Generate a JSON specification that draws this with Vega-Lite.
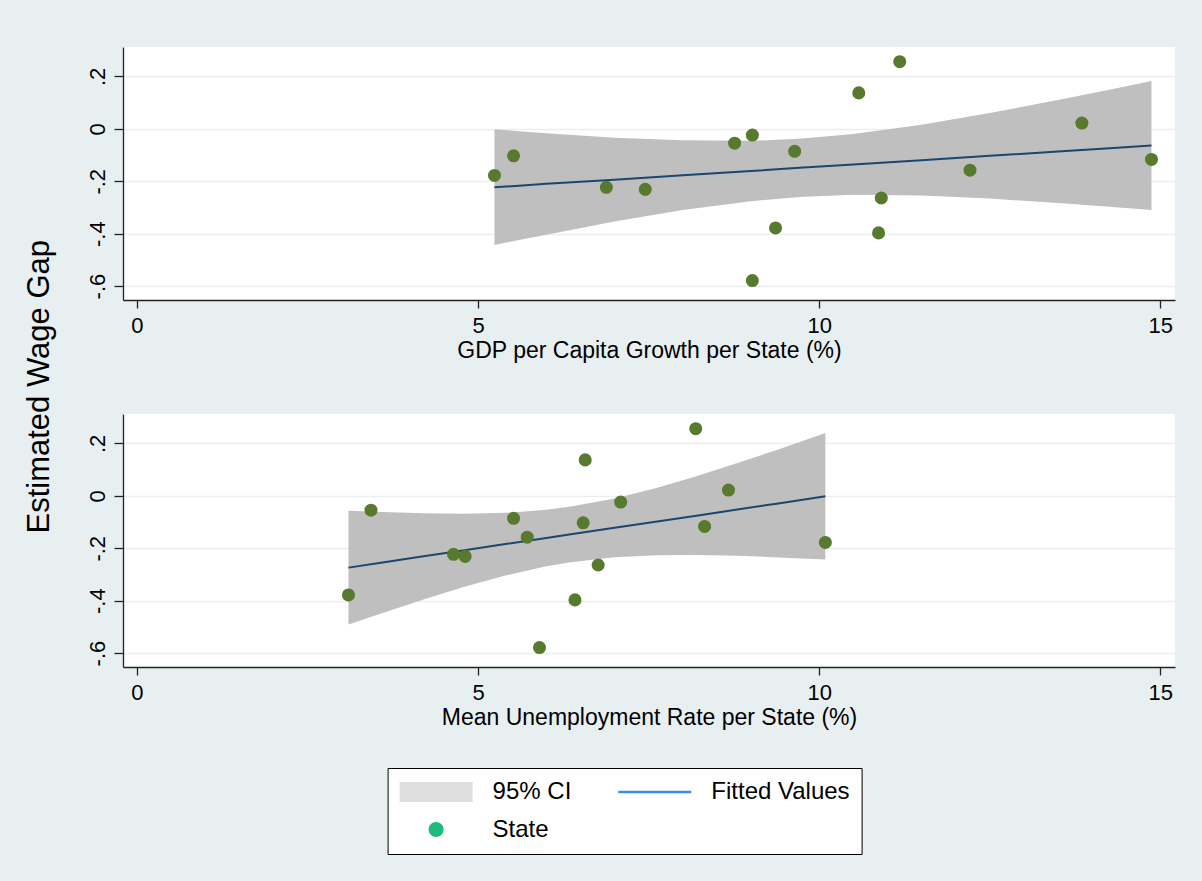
{
  "$schema": "https://vega.github.io/schema/vega-lite/v6.json",
  "background": "#e8eff1",
  "padding": {"left": 23, "top": 47, "right": 28, "bottom": 28},
  "bounds": "flush",
  "spacing": 114,
  "title": {
    "text": "Estimated Wage Gap",
    "orient": "left",
    "anchor": "middle",
    "offset": 30.5,
    "dx": 64,
    "fontSize": 31,
    "fontWeight": "normal",
    "font": "Liberation Sans",
    "color": "#000000"
  },
  "config": {
    "font": "Liberation Sans",
    "view": {"fill": "white", "stroke": null},
    "axis": {
      "domainColor": "#222222",
      "domainWidth": 1.3,
      "tickColor": "#222222",
      "tickWidth": 1.3,
      "labelColor": "#000000",
      "labelFont": "Liberation Sans",
      "labelFontSize": 22,
      "labelFlush": false,
      "labelOverlap": false,
      "titleColor": "#000000",
      "titleFont": "Liberation Sans",
      "titleFontSize": 23,
      "titleFontWeight": "normal"
    },
    "axisX": {"grid": false, "tickSize": 8, "labelPadding": 7, "titlePadding": 3, "format": "d"},
    "axisY": {
      "grid": true,
      "gridColor": "#e8eff1",
      "gridWidth": 1.5,
      "tickSize": 9,
      "labelAngle": 270,
      "labelAlign": "center",
      "labelBaseline": "bottom",
      "labelPadding": 5
    },
    "legend": {
      "orient": "none",
      "legendX": 264.6,
      "legendY": 721,
      "columns": 2,
      "direction": "horizontal",
      "fillColor": "white",
      "strokeColor": "#000000",
      "padding": 12,
      "labelFont": "Liberation Sans",
      "labelFontSize": 24,
      "labelColor": "#000000",
      "symbolSize": 400,
      "symbolStrokeWidth": 0,
      "symbolOpacity": 1,
      "symbolOffset": 24.5,
      "labelOffset": 44.5,
      "rowPadding": 13.5,
      "columnPadding": 46.7
    }
  },
  "datasets": {
    "states": [
      {"gdp": 5.24, "unemp": 10.09, "gap": -0.178},
      {"gdp": 5.52, "unemp": 6.54, "gap": -0.103},
      {"gdp": 6.88, "unemp": 4.64, "gap": -0.223},
      {"gdp": 7.45, "unemp": 4.81, "gap": -0.231},
      {"gdp": 8.76, "unemp": 3.43, "gap": -0.055},
      {"gdp": 9.02, "unemp": 7.09, "gap": -0.024},
      {"gdp": 9.02, "unemp": 5.90, "gap": -0.579},
      {"gdp": 9.36, "unemp": 3.10, "gap": -0.378},
      {"gdp": 9.64, "unemp": 5.52, "gap": -0.086},
      {"gdp": 10.58, "unemp": 6.57, "gap": 0.137},
      {"gdp": 10.87, "unemp": 6.42, "gap": -0.397},
      {"gdp": 10.91, "unemp": 6.76, "gap": -0.264},
      {"gdp": 11.18, "unemp": 8.19, "gap": 0.256},
      {"gdp": 12.21, "unemp": 5.72, "gap": -0.158},
      {"gdp": 13.85, "unemp": 8.67, "gap": 0.022},
      {"gdp": 14.87, "unemp": 8.32, "gap": -0.117}
    ],
    "gdpFit": [
      {"x": 5.24, "fit": -0.223, "lo": -0.443, "hi": -0.002},
      {"x": 5.6, "fit": -0.217, "lo": -0.424, "hi": -0.009},
      {"x": 6.0, "fit": -0.210, "lo": -0.404, "hi": -0.017},
      {"x": 7.0, "fit": -0.194, "lo": -0.354, "hi": -0.034},
      {"x": 8.0, "fit": -0.177, "lo": -0.310, "hi": -0.044},
      {"x": 9.0, "fit": -0.161, "lo": -0.276, "hi": -0.046},
      {"x": 9.71, "fit": -0.149, "lo": -0.260, "hi": -0.038},
      {"x": 10.5, "fit": -0.136, "lo": -0.252, "hi": -0.020},
      {"x": 11.5, "fit": -0.120, "lo": -0.254, "hi": 0.015},
      {"x": 12.5, "fit": -0.103, "lo": -0.266, "hi": 0.060},
      {"x": 13.5, "fit": -0.087, "lo": -0.283, "hi": 0.110},
      {"x": 14.2, "fit": -0.075, "lo": -0.296, "hi": 0.146},
      {"x": 14.87, "fit": -0.064, "lo": -0.310, "hi": 0.182}
    ],
    "unempFit": [
      {"x": 3.10, "fit": -0.274, "lo": -0.491, "hi": -0.057},
      {"x": 3.6, "fit": -0.254, "lo": -0.447, "hi": -0.062},
      {"x": 4.2, "fit": -0.231, "lo": -0.396, "hi": -0.067},
      {"x": 4.8, "fit": -0.208, "lo": -0.347, "hi": -0.068},
      {"x": 5.4, "fit": -0.184, "lo": -0.304, "hi": -0.065},
      {"x": 6.0, "fit": -0.161, "lo": -0.269, "hi": -0.053},
      {"x": 6.36, "fit": -0.147, "lo": -0.253, "hi": -0.041},
      {"x": 7.0, "fit": -0.122, "lo": -0.234, "hi": -0.010},
      {"x": 7.6, "fit": -0.099, "lo": -0.227, "hi": 0.029},
      {"x": 8.2, "fit": -0.076, "lo": -0.226, "hi": 0.075},
      {"x": 8.8, "fit": -0.052, "lo": -0.229, "hi": 0.125},
      {"x": 9.4, "fit": -0.029, "lo": -0.235, "hi": 0.177},
      {"x": 10.09, "fit": -0.002, "lo": -0.243, "hi": 0.240}
    ],
    "legendItems": [
      {"item": "95% CI"},
      {"item": "Fitted Values"},
      {"item": "State"}
    ]
  },
  "vconcat": [
    {
      "width": 1052,
      "height": 253,
      "layer": [
        {
          "data": {"name": "gdpFit"},
          "mark": {"type": "area", "color": "#bfbfbf", "opacity": 1},
          "encoding": {
            "x": {
              "field": "x", "type": "quantitative",
              "title": "GDP per Capita Growth per State (%)",
              "scale": {"domain": [-0.205, 15.215], "nice": false, "zero": false},
              "axis": {"values": [0, 5, 10, 15]}
            },
            "y": {
              "field": "lo", "type": "quantitative", "title": null,
              "scale": {"domain": [-0.653, 0.312], "nice": false, "zero": false},
              "axis": {
                "values": [-0.6, -0.4, -0.2, 0, 0.2],
                "labelExpr": "datum.value == 0 ? '0' : (datum.value < 0 ? '-' : '') + '.' + round(abs(datum.value) * 10)"
              }
            },
            "y2": {"field": "hi"}
          }
        },
        {
          "data": {"name": "gdpFit"},
          "mark": {"type": "line", "color": "#1a476f", "strokeWidth": 2},
          "encoding": {
            "x": {"field": "x", "type": "quantitative", "title": "GDP per Capita Growth per State (%)"},
            "y": {"field": "fit", "type": "quantitative", "title": null}
          }
        },
        {
          "data": {"name": "states"},
          "mark": {"type": "point", "filled": true, "color": "#587a2e", "opacity": 1, "size": 170},
          "encoding": {
            "x": {"field": "gdp", "type": "quantitative", "title": "GDP per Capita Growth per State (%)"},
            "y": {"field": "gap", "type": "quantitative", "title": null}
          }
        }
      ]
    },
    {
      "width": 1052,
      "height": 253,
      "layer": [
        {
          "data": {"name": "unempFit"},
          "mark": {"type": "area", "color": "#bfbfbf", "opacity": 1},
          "encoding": {
            "x": {
              "field": "x", "type": "quantitative",
              "title": "Mean Unemployment Rate per State (%)",
              "scale": {"domain": [-0.205, 15.215], "nice": false, "zero": false},
              "axis": {"values": [0, 5, 10, 15]}
            },
            "y": {
              "field": "lo", "type": "quantitative", "title": null,
              "scale": {"domain": [-0.653, 0.312], "nice": false, "zero": false},
              "axis": {
                "values": [-0.6, -0.4, -0.2, 0, 0.2],
                "labelExpr": "datum.value == 0 ? '0' : (datum.value < 0 ? '-' : '') + '.' + round(abs(datum.value) * 10)"
              }
            },
            "y2": {"field": "hi"}
          }
        },
        {
          "data": {"name": "unempFit"},
          "mark": {"type": "line", "color": "#1a476f", "strokeWidth": 2},
          "encoding": {
            "x": {"field": "x", "type": "quantitative", "title": "Mean Unemployment Rate per State (%)"},
            "y": {"field": "fit", "type": "quantitative", "title": null}
          }
        },
        {
          "data": {"name": "states"},
          "mark": {"type": "point", "filled": true, "color": "#587a2e", "opacity": 1, "size": 170},
          "encoding": {
            "x": {"field": "unemp", "type": "quantitative", "title": "Mean Unemployment Rate per State (%)"},
            "y": {"field": "gap", "type": "quantitative", "title": null}
          }
        },
        {
          "data": {"name": "legendItems"},
          "mark": {"type": "point", "filled": true, "opacity": 1},
          "encoding": {
            "x": {"field": "unemp", "type": "quantitative", "title": "Mean Unemployment Rate per State (%)"},
            "y": {"field": "gap", "type": "quantitative", "title": null},
            "color": {
              "field": "item", "type": "nominal", "title": null,
              "scale": {
                "domain": ["95% CI", "Fitted Values", "State"],
                "range": ["#dedede", "#3b8ee8", "#1dbb7e"]
              }
            },
            "shape": {
              "field": "item", "type": "nominal", "title": null,
              "scale": {
                "domain": ["95% CI", "Fitted Values", "State"],
                "range": [
                  "M-3.65,-1H3.65V1H-3.65Z",
                  "M-3.65,-0.125H3.65V0.125H-3.65Z",
                  "M0.75,0A0.75,0.75 0 1,1 -0.75,0A0.75,0.75 0 1,1 0.75,0Z"
                ]
              }
            }
          }
        }
      ]
    }
  ],
  "resolve": {"scale": {"x": "independent", "y": "independent"}}
}
